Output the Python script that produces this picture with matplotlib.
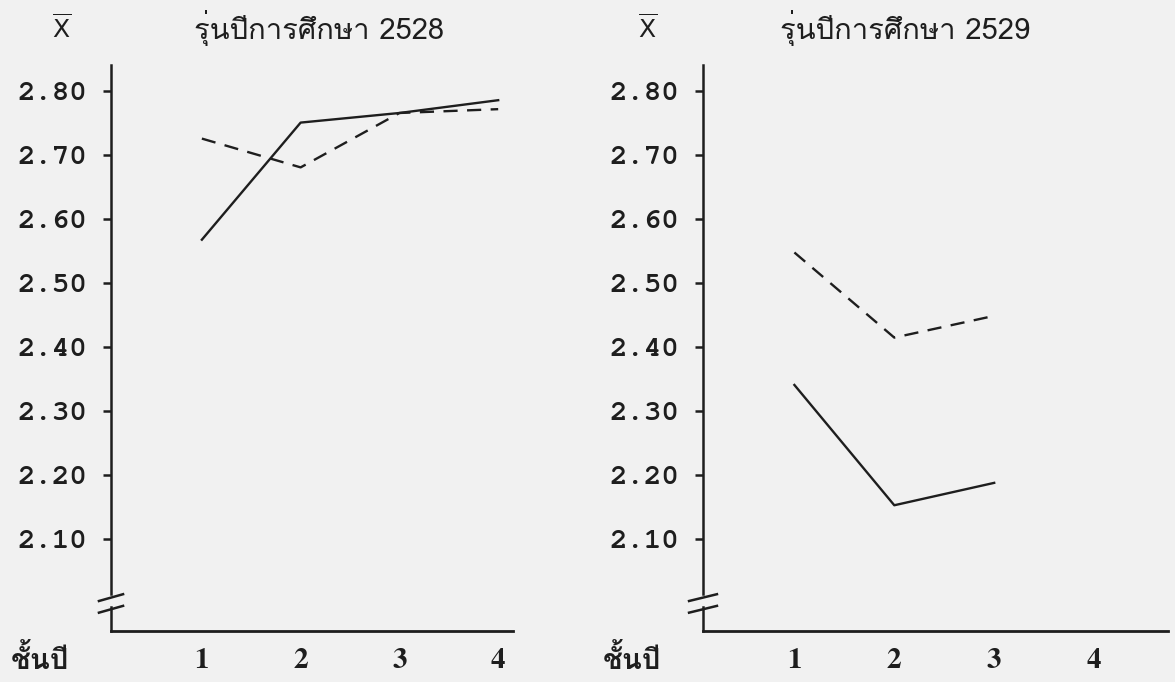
import matplotlib
matplotlib.use("Agg")
import matplotlib.pyplot as plt

years = [1, 2, 3, 4]
ticks_y = [2.10, 2.20, 2.30, 2.40, 2.50, 2.60, 2.70, 2.80]
x_labels = ["1", "2", "3", "4"]

# cohort 2528
solid_2528 = [2.567, 2.750, 2.765, 2.785]
dashed_2528 = [2.725, 2.680, 2.765, 2.771]
# cohort 2529 (no 4th year yet)
solid_2529 = [2.340, 2.152, 2.187]
dashed_2529 = [2.547, 2.414, 2.448]

titles = ["รุ่นปีการศึกษา 2528", "รุ่นปีการศึกษา 2529"]
xlab = "ชั้นปี"

fig = plt.figure(figsize=(11.75, 6.82), dpi=100)
fig.patch.set_facecolor("#f1f1f1")
W, H = 1175, 682
ink = "#1e1e1e"
mono = ["FreeMono", "Liberation Mono", "DejaVu Sans Mono"]
serif = ["FreeSerif", "DejaVu Serif"]
thaifam = ["Loma", "FreeSerif", "DejaVu Sans"]

def panel(x0, x1, xlim, solid, dashed):
    ax = fig.add_axes([x0 / W, (H - 631) / H, (x1 - x0) / W, (631 - 65) / H])
    ax.set_facecolor("none")
    ax.set_xlim(*xlim)
    ax.set_ylim(1.9555, 2.84)
    for s in ["top", "right", "left"]:
        ax.spines[s].set_visible(False)
    ax.spines["bottom"].set_linewidth(2)
    ax.spines["bottom"].set_color(ink)
    # y axis drawn by hand so it can have a break near the bottom
    gb = 2.84 - 1.9555
    y_lo = (1.993 - 1.9555) / gb
    y_hi = (2.013 - 1.9555) / gb
    ax.plot([0, 0], [0, y_lo], transform=ax.transAxes, color=ink, lw=1.8, clip_on=False)
    ax.plot([0, 0], [y_hi, 1], transform=ax.transAxes, color=ink, lw=1.8, clip_on=False)
    for yy in [y_lo - 0.004, y_hi - 0.006]:
        ax.plot([-0.03, 0.03], [yy - 0.006, yy + 0.006], transform=ax.transAxes,
                color=ink, lw=1.8, clip_on=False)
    ax.set_yticks(ticks_y)
    ax.set_yticklabels(["%.2f" % t for t in ticks_y], family=mono, weight="bold",
                       fontsize=21, color=ink)
    ax.tick_params(axis="y", direction="out", length=6, width=1.8, pad=11, color=ink)
    ax.set_xticks(years)
    ax.set_xticklabels(x_labels, family=serif, weight="bold", fontsize=21, color=ink)
    ax.tick_params(axis="x", length=0, pad=12)
    ax.plot(years[:len(solid)], solid, color=ink, lw=1.7)
    ax.plot(years[:len(dashed)], dashed, color=ink, lw=1.7, dashes=(6, 4))
    return ax

panel(111, 513, (0.08, 4.15), solid_2528, dashed_2528)
panel(703, 1168, (0.085, 4.74), solid_2529, dashed_2529)

for xb, xt, t in [(62, 319, titles[0]), (648, 905, titles[1])]:
    fig.text(xb / W, 1 - 28 / H, r"$\overline{\mathrm{X}}$", ha="center", va="center",
             fontsize=18, color=ink)
    fig.text(xt / W, 1 - 28 / H, t, ha="center", va="center", family=thaifam,
             fontsize=21, color=ink)
for xl in [40, 632]:
    fig.text(xl / W, 1 - 660 / H, xlab, ha="center", va="center", family=thaifam,
             fontsize=21, weight="bold", color=ink)

fig.savefig("out.png", dpi=100, facecolor=fig.get_facecolor())
